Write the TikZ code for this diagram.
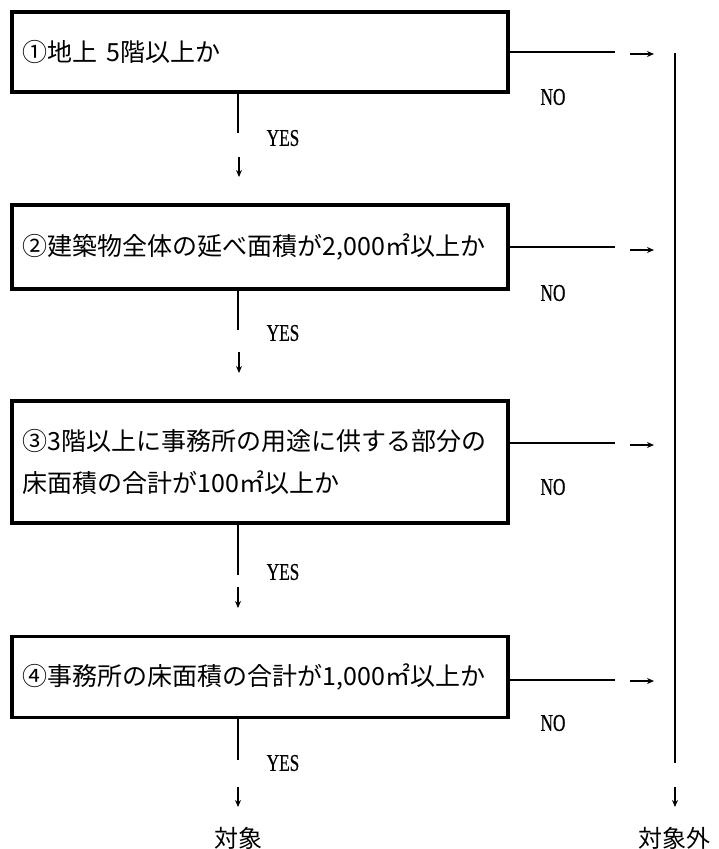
\documentclass[tikz,border=0pt]{standalone}
\usepackage{fontspec}
\usetikzlibrary{arrows.meta}
\newfontfamily\jpfont{Noto Sans CJK JP}
\newfontfamily\yesfont[FakeStretch=0.72,FakeBold=0.6]{Liberation Serif}
\tikzset{
  box/.style={draw, line width=3.5pt, minimum width=496pt, text width=474pt, align=left, inner xsep=10pt, inner ysep=0pt, font=\jpfont\fontsize{25}{42}\selectfont},
  conn/.style={line width=2pt},
  arr/.style={line width=1.6pt, -{Stealth[length=7pt,width=6pt]}},
  yn/.style={font=\yesfont\fontsize{24}{26}\selectfont, inner sep=0pt},
  res/.style={font=\jpfont\fontsize{24}{26}\selectfont, inner sep=0pt}
}
\begin{document}
\begin{tikzpicture}[x=1pt,y=-1pt]
\useasboundingbox (0,0) rectangle (718,849);
% boxes
\node[box, minimum height=80pt] (b1) at (260,52) {①地上 5階以上か};
\node[box, minimum height=84pt] (b2) at (260,247) {②建築物全体の延べ面積が2,000㎡以上か};
\node[box, minimum height=122pt] (b3) at (260,462) {③3階以上に事務所の用途に供する部分の\\床面積の合計が100㎡以上か};
\node[box, minimum height=81pt] (b4) at (260,677) {④事務所の床面積の合計が1,000㎡以上か};
% NO lines
\coordinate (n1) at (615,52);
\coordinate (n2) at (615,247);
\coordinate (n3) at (615,443);
\coordinate (n4) at (615,680);
\draw[conn] (b1.east |- n1) -- (n1);
\draw[conn] (b2.east |- n2) -- (n2);
\draw[conn] (b3.east |- n3) -- (n3);
\draw[conn] (b4.east |- n4) -- (n4);
% right arrows
\coordinate (r1s) at (630,54); \coordinate (r1e) at (654,54);
\coordinate (r2s) at (630,250); \coordinate (r2e) at (654,250);
\coordinate (r3s) at (630,445); \coordinate (r3e) at (654,445);
\coordinate (r4s) at (630,681); \coordinate (r4e) at (654,681);
\draw[arr] (r1s) -- (r1e);
\draw[arr] (r2s) -- (r2e);
\draw[arr] (r3s) -- (r3e);
\draw[arr] (r4s) -- (r4e);
% NO labels
\node[yn] (no1) at (553,97) {NO};
\node[yn] (no2) at (553,293) {NO};
\node[yn] (no3) at (553,487) {NO};
\node[yn] (no4) at (553,723) {NO};
% right vertical
\coordinate (vt) at (675,53);
\coordinate (vb) at (675,763);
\draw[line width=2.2pt] (vt) -- (vb);
\coordinate (vas) at (675,787);
\coordinate (vae) at (675,807);
\draw[arr] (vas) -- (vae);
\node[res] (out) at (674,838) {対象外};
% YES lines
\coordinate (y1) at (238,133);
\coordinate (y2) at (238,330);
\coordinate (y3) at (238,575);
\coordinate (y4) at (238,760);
\draw[conn] (y1 |- b1.south) -- (y1);
\draw[conn] (y2 |- b2.south) -- (y2);
\draw[conn] (y3 |- b3.south) -- (y3);
\draw[conn] (y4 |- b4.south) -- (y4);
\node[yn] (yes1) at (283,138) {YES};
\node[yn] (yes2) at (283,333) {YES};
\node[yn] (yes3) at (283,572) {YES};
\node[yn] (yes4) at (283,763) {YES};
% down arrows
\coordinate (d1s) at (239,157); \coordinate (d1e) at (239,177);
\coordinate (d2s) at (239,352); \coordinate (d2e) at (239,373);
\coordinate (d3s) at (238,587); \coordinate (d3e) at (238,608);
\coordinate (d4s) at (238,787); \coordinate (d4e) at (238,807);
\draw[arr] (d1s) -- (d1e);
\draw[arr] (d2s) -- (d2e);
\draw[arr] (d3s) -- (d3e);
\draw[arr] (d4s) -- (d4e);
\node[res] (tgt) at (238,838) {対象};
\end{tikzpicture}
\end{document}
